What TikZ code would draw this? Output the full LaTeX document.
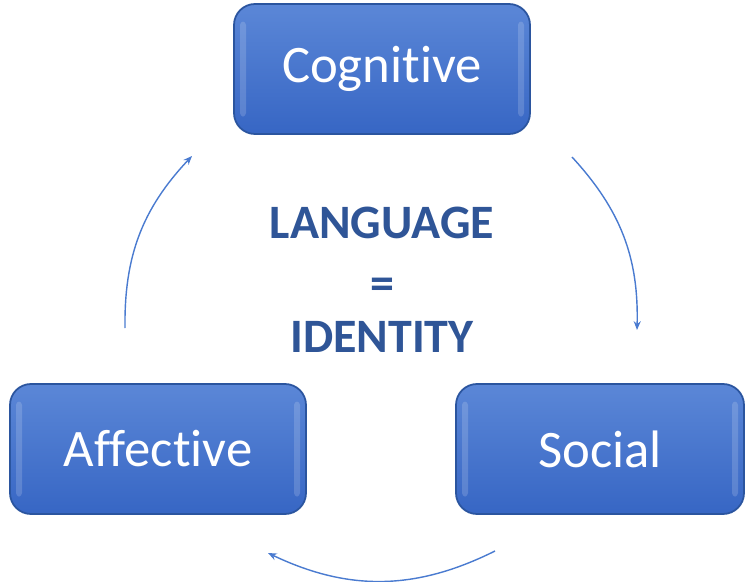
\documentclass[tikz,border=0pt]{standalone}
\usepackage{fontspec}
\setmainfont{Carlito}[Ligatures=NoCommon]
\usetikzlibrary{arrows.meta}

\definecolor{boxtop}{HTML}{5B87D7}
\definecolor{boxbot}{HTML}{3766C4}
\definecolor{boxline}{HTML}{2B559F}
\definecolor{arcblue}{HTML}{4A7BD0}
\definecolor{idtext}{HTML}{2F5597}

\begin{document}
\begin{tikzpicture}[
	area/.style={draw=boxline, line width=1pt, rounded corners=0.42cm,
		top color=boxtop, bottom color=boxbot,
		minimum width=5.92cm, minimum height=2.6cm,
		text=white, font=\fontsize{30}{35}\selectfont,
		path picture={
			\fill[white, opacity=0.16, rounded corners=2pt]
			([xshift=0.12cm, yshift=-0.35cm]path picture bounding box.north west) rectangle
			([xshift=0.24cm, yshift=0.35cm]path picture bounding box.south west);
			\fill[white, opacity=0.16, rounded corners=2pt]
			([xshift=-0.12cm, yshift=-0.35cm]path picture bounding box.north east) rectangle
			([xshift=-0.24cm, yshift=0.35cm]path picture bounding box.south east);
		}},
	cycle/.style={draw=arcblue, line width=0.8pt, -{Stealth[length=5pt, width=4pt]}},
	core/.style={text=idtext, font=\fontsize{27.3}{32}\selectfont\bfseries}
	]
			\useasboundingbox (0,0) rectangle (14.92,11.62);
			
			\node	(cog) at (7.64,10.24) [area] {Cognitive};
			\node	(aff) at (3.16,2.64) [area] {Affective};
			\node	(soc) at (12.0,2.64) [area, minimum width=5.76cm] {Social};
			
			\node	(lang) at (7.64,7.17) [core] {LANGUAGE};
			\node	(eq) at (7.64,5.84) [core] {=};
			\node	(id) at (7.64,4.88) [core] {IDENTITY};
			
			% ends of the arcs
			\coordinate (a1) at (11.44,8.48);
			\coordinate (a2) at (12.74,5.02);
			\coordinate (b1) at (9.90,0.60);
			\coordinate (b2) at (5.36,0.56);
			\coordinate (c1) at (2.50,5.06);
			\coordinate (c2) at (3.84,8.50);
			
			\draw 
			(a1) edge[cycle, bend left=22] (a2)
			(b1) edge[cycle, bend left=26] (b2)
			(c1) edge[cycle, bend left=22] (c2)
			;
		\end{tikzpicture}
\end{document}
